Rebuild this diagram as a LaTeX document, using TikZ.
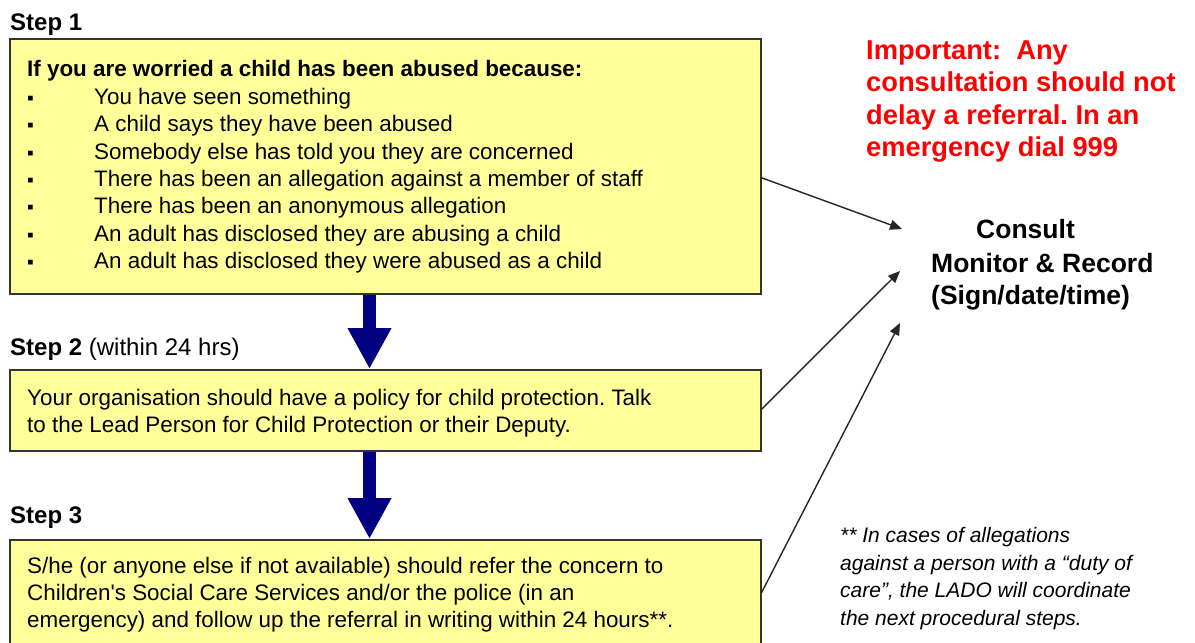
\documentclass[tikz,border=0pt]{standalone}
\usepackage{fontspec}
\setmainfont{Liberation Sans}
\usetikzlibrary{arrows.meta}
\definecolor{boxfill}{HTML}{FFFF99}
\definecolor{boxline}{HTML}{333333}
\definecolor{navyblue}{HTML}{000080}
\definecolor{alertred}{HTML}{FF0000}
\frenchspacing
\begin{document}
\begin{tikzpicture}[x=1pt,y=-1pt,
  stepbox/.style={draw=boxline, fill=boxfill, line width=1.5pt, anchor=north west, minimum width=751pt, inner sep=0pt},
  txt/.style={anchor=base west, inner sep=0pt, font=\fontsize{22.4}{27}\selectfont},
  bul/.style={anchor=base west, inner sep=0pt, font=\fontsize{19}{22}\selectfont},
  steplabel/.style={anchor=base west, inner sep=0pt, font=\fontsize{24}{28}\selectfont},
  redtxt/.style={anchor=base west, inner sep=0pt, text=alertred, font=\bfseries\fontsize{27.3}{32}\selectfont},
  contxt/.style={anchor=base west, inner sep=0pt, font=\bfseries\fontsize{26.5}{32}\selectfont},
  notetxt/.style={anchor=base west, inner sep=0pt, font=\itshape\fontsize{21}{27}\selectfont},
  bigarrow/.style={draw=navyblue, line width=13.5pt, -{Triangle[width=41pt,length=41pt]}, navyblue},
  thinarrow/.style={draw=black!85, line width=1.4pt, -{Triangle[length=12pt,width=10pt]}}
]
\useasboundingbox (0,0) rectangle (1195,643);
\fill[white] (0,0) rectangle (1195,643);

% boxes
\node[stepbox, minimum height=255pt] (box1) at (9,38) {};
\node[stepbox, minimum height=81pt] (box2) at (9,369) {};
\node[stepbox, minimum height=121pt] (box3) at (9,539) {};

% step labels
\node[steplabel] (s1) at (10,30) {\bfseries Step 1};
\node[steplabel] (s2) at (10,355) {\textbf{Step 2} (within 24 hrs)};
\node[steplabel] (s3) at (10,523) {\bfseries Step 3};

% box 1 text
\node[txt, font=\bfseries\fontsize{22.4}{27}\selectfont] (h1) at (27,76) {If you are worried a child has been abused because:};
\foreach \i/\yy/\t in {1/104/You have seen something,
  2/131/A child says they have been abused,
  3/159/Somebody else has told you they are concerned,
  4/186/There has been an allegation against a member of staff,
  5/213/There has been an anonymous allegation,
  6/241/An adult has disclosed they are abusing a child,
  7/268/An adult has disclosed they were abused as a child}{
  \node[bul] (b\i) at (27,\yy) {▪};
  \node[txt] (l\i) at (94,\yy) {\t};
}

% box 2 text
\node[txt] (t21) at (27,405) {Your organisation should have a policy for child protection. Talk};
\node[txt] (t22) at (27,432) {to the Lead Person for Child Protection or their Deputy.};

% box 3 text
\node[txt] (t31) at (27,573) {S/he (or anyone else if not available) should refer the concern to};
\node[txt] (t32) at (27,600) {Children\textquotesingle s Social Care Services and/or the police (in an};
\node[txt] (t33) at (27,627) {emergency) and follow up the referral in writing within 24 hours**.};

% red note
\node[redtxt] (r1) at (866,59) {Important:\ \ Any};
\node[redtxt] (r2) at (866,91) {consultation should not};
\node[redtxt] (r3) at (866,124) {delay a referral. In an};
\node[redtxt] (r4) at (866,156) {emergency dial 999};

% consult
\node[contxt] (c1) at (976,238) {Consult};
\node[contxt] (c2) at (931,272) {Monitor \& Record};
\node[contxt] (c3) at (931,304) {(Sign/date/time)};

% footnote
\node[notetxt] (n1) at (840,542) {** In cases of allegations};
\node[notetxt] (n2) at (840,570) {against a person with a “duty of};
\node[notetxt] (n3) at (840,597) {care”, the LADO will coordinate};
\node[notetxt] (n4) at (840,625) {the next procedural steps.};

% arrow targets
\coordinate (ax) at (369.5,0);
\coordinate (e1) at (902,229);
\coordinate (e2) at (900,271);
\coordinate (e3) at (900,323);

% big arrows
\draw[bigarrow] (box1.south -| ax) -- (box2.north -| ax);
\draw[bigarrow] (box2.south -| ax) -- (box3.north -| ax);

% thin arrows
\draw[thinarrow] ([yshift=-11.5pt]box1.east) -- (e1);
\draw[thinarrow] ([yshift=1pt]box2.east) -- (e2);
\draw[thinarrow] ([yshift=7.5pt]box3.east) -- (e3);
\end{tikzpicture}
\end{document}
